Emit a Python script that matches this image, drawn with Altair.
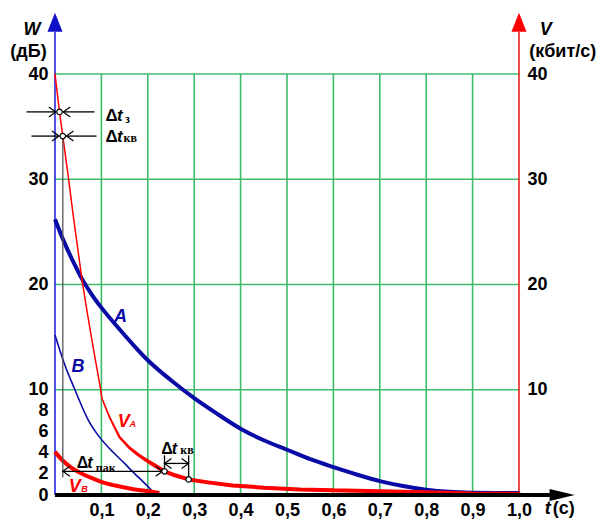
import altair as alt
import numpy as np
import pandas as pd

# ---------------- data -------------------------------------------------
# curve A: W (dB) vs t (s)
t_A = [0, 0.02, 0.04, 0.056, 0.08, 0.1, 0.14, 0.17, 0.2, 0.25, 0.3, 0.35, 0.4,
       0.45, 0.5, 0.55, 0.6, 0.65, 0.7, 0.75, 0.8, 0.85, 0.9, 0.95, 1.0]
w_A = [26.2, 24.0, 22.1, 20.7, 19.0, 17.8, 15.7, 14.2, 12.8, 10.9, 9.2, 7.7, 6.3,
       5.2, 4.3, 3.4, 2.65, 1.95, 1.32, 0.85, 0.5, 0.3, 0.22, 0.2, 0.2]

# curve B
t_B = [0, 0.02, 0.042, 0.072, 0.096, 0.12, 0.15, 0.17, 0.189, 0.205, 0.218]
w_B = [15.2, 12.5, 10.1, 7.1, 5.5, 4.3, 3.0, 2.1, 1.3, 0.6, 0.0]

# curve V_A: bit rate (kbit/s) vs t
t_VA = [0, 0.0097, 0.0168, 0.03, 0.038, 0.05, 0.059, 0.07, 0.08, 0.09, 0.098,
        0.101, 0.1175, 0.139, 0.16, 0.18, 0.197, 0.215, 0.236, 0.26, 0.288,
        0.33, 0.383, 0.45, 0.527, 0.6, 0.7, 0.8, 0.9, 1.0]
v_VA = [40, 36.4, 34.1, 29.8, 27.0, 23.1, 20.2, 17.2, 14.6, 12.1, 10.1,
        9.2, 7.4, 5.5, 4.5, 3.8, 3.3, 2.8, 2.25, 1.85, 1.48,
        1.2, 0.91, 0.7, 0.53, 0.45, 0.35, 0.25, 0.15, 0.1]

# curve V_B
t_VB = [0, 0.016, 0.035, 0.059, 0.08, 0.1, 0.13, 0.161, 0.19, 0.215, 0.225]
v_VB = [4.1, 3.3, 2.6, 2.0, 1.6, 1.25, 0.9, 0.62, 0.42, 0.27, 0.2]

# marked instants on V_A: delay, quantisation, packet end, quantisation
t_z, v_z = 0.0097, 36.4
t_kv, v_kv = 0.0168, 34.1
t_pak, v_pak = 0.236, 2.25
t_kv2, v_kv2 = 0.288, 1.48

# axes
x_ticks = [0.1, 0.2, 0.3, 0.4, 0.5, 0.6, 0.7, 0.8, 0.9, 1.0]
y_ticks_left = [0, 2, 4, 6, 8, 10, 20, 30, 40]
y_ticks_right = [10, 20, 30, 40]
grid_t = [0.1, 0.2, 0.3, 0.4, 0.5, 0.6, 0.7, 0.8, 0.9]
grid_w = [10, 20, 30, 40]

# ---------------- styling ----------------------------------------------
FONT = "Liberation Sans"
SERIF = "Liberation Serif"
GREEN = "#3DBB6A"
NAVY = "#0A0AA6"
BLUE = "#1818E0"
RED = "#FF0000"

XS = alt.Scale(domain=[0, 1], nice=False, zero=False)
YS = alt.Scale(domain=[0, 40], nice=False, zero=False)


def X(f, **kw):
    return alt.X(f, type="quantitative", scale=XS, axis=None, **kw)


def Y(f, **kw):
    return alt.Y(f, type="quantitative", scale=YS, axis=None, **kw)


LBL = dict(domain=False, ticks=False, grid=False, title=None, labelFont=FONT,
           labelFontSize=18, labelFontWeight="bold", labelColor="black",
           labelFlush=False, labelOverlap=False)
x_axis = alt.Axis(values=x_ticks, orient="bottom",
                  labelExpr="replace(format(datum.value, '.1f'), '.', ',')",
                  labelPadding=6, **LBL)
y_axis_left = alt.Axis(values=y_ticks_left, orient="left", labelPadding=7, **LBL)
y_axis_right = alt.Axis(values=y_ticks_right, orient="right", labelPadding=8, **LBL)

# ---------------- grid (also carries the x and left y axes) --------------
grid_v = alt.Chart(pd.DataFrame({"t": grid_t, "v0": 0, "v1": 40})).mark_rule(
    color=GREEN, strokeWidth=1.6).encode(
    x=alt.X("t:Q", scale=XS, axis=x_axis),
    y=alt.Y("v0:Q", scale=YS, axis=y_axis_left), y2="v1:Q")
grid_h = alt.Chart(pd.DataFrame({"v": grid_w, "t0": 0, "t1": 1})).mark_rule(
    color=GREEN, strokeWidth=1.6).encode(x=X("t0"), x2="t1", y=Y("v"))

# right-hand V scale labels (same 0..40 range)
right_axis = alt.Chart(pd.DataFrame({"v": y_ticks_right})).mark_rule(opacity=0).encode(
    y=alt.Y("v:Q", scale=YS, axis=y_axis_right))

# ---------------- axis lines and arrow heads ----------------------------
left_line = alt.Chart(pd.DataFrame({"t": [0], "a": [0], "b": [44.0]})).mark_rule(
    color=BLUE, strokeWidth=1.5).encode(x=X("t"), y=Y("a"), y2="b")
right_line = alt.Chart(pd.DataFrame({"t": [1], "a": [0], "b": [44.0]})).mark_rule(
    color="#E01010", strokeWidth=1.5).encode(x=X("t"), y=Y("a"), y2="b")
bottom_line = alt.Chart(pd.DataFrame({"a": [0], "b": [1.07], "v": [0]})).mark_rule(
    color="black", strokeWidth=4).encode(x=X("a"), x2="b", y=Y("v"))

UP = "M0,-1L0.79,1L-0.79,1Z"
RIGHT = "M1,0L-1,-0.48L-1,0.48Z"
arrow_up_l = alt.Chart(pd.DataFrame({"t": [0], "v": [44.92]})).mark_point(
    shape=UP, filled=True, color="#1010C8", size=361, opacity=1, strokeWidth=0).encode(
    x=X("t"), y=Y("v"))
arrow_up_r = alt.Chart(pd.DataFrame({"t": [1], "v": [44.92]})).mark_point(
    shape=UP, filled=True, color=RED, size=361, opacity=1, strokeWidth=0).encode(
    x=X("t"), y=Y("v"))
arrow_x = alt.Chart(pd.DataFrame({"t": [1.093], "v": [0]})).mark_point(
    shape=RIGHT, filled=True, color="black", size=625, opacity=1, strokeWidth=0).encode(
    x=X("t"), y=Y("v"))

# ---------------- curves -------------------------------------------------
dfA = pd.DataFrame({"t": t_A, "v": w_A})
dfB = pd.DataFrame({"t": t_B, "v": w_B})
dfVB = pd.DataFrame({"t": t_VB, "v": v_VB})
dfVA = pd.DataFrame({"t": t_VA, "v": v_VA})
# V_A is drawn thin on its steep start and thickens along the tail
dfVA["w"] = np.interp(dfVA["t"], [0.101, 0.215], [1.5, 4.0])

curve_A = alt.Chart(dfA).mark_line(color=NAVY, strokeWidth=4, interpolate="monotone").encode(
    x=X("t"), y=Y("v"))
curve_B = alt.Chart(dfB).mark_line(color=NAVY, strokeWidth=1.6, interpolate="monotone").encode(
    x=X("t"), y=Y("v"))
curve_VB = alt.Chart(dfVB).mark_line(color=RED, strokeWidth=4, interpolate="monotone").encode(
    x=X("t"), y=Y("v"))
curve_VA = alt.Chart(dfVA).mark_trail(color=RED).encode(
    x=X("t"), y=Y("v"), size=alt.Size("w:Q", scale=None, legend=None), order="t:Q")

# ---------------- interval markings -------------------------------------
gap = 0.008  # half-gap between arrow tips and marked point
segs = pd.DataFrame({
    "a": [-0.0615, t_z + gap, -0.0507, t_kv + gap, t_kv, t_pak, t_kv, t_pak, t_kv2],
    "b": [t_z - gap, 0.0852, t_kv - gap, 0.0895, t_kv, t_kv2, t_pak, t_pak, t_kv2],
    "va": [v_z, v_z, v_kv, v_kv, 1.67, 3.0, v_pak, v_pak, v_kv2],
    "vb": [v_z, v_z, v_kv, v_kv, v_kv, 3.0, v_pak, 3.77, 3.77],
    "c": ["black", "black", "black", "black", "#555555", "black", "black", "black", "black"],
})
seg_rules = alt.Chart(segs).mark_rule(strokeWidth=1.3).encode(
    x=X("a"), x2="b", y=Y("va"), y2="vb", color=alt.Color("c:N", scale=None))

CHEV = "M-1.4,-1L0,0L-1.4,1"
chev = pd.DataFrame({
    "t": [t_z - gap, t_z + gap, t_kv - gap, t_kv + gap, t_kv, t_pak - 0.004, t_pak, t_kv2],
    "v": [v_z, v_z, v_kv, v_kv, v_pak, v_pak, 3.0, 3.0],
    "ang": [0, 180, 0, 180, 180, 0, 180, 0],
})
chevrons = alt.Chart(chev).mark_point(
    shape=CHEV, filled=False, color="black", strokeWidth=1.2, size=100, opacity=1).encode(
    x=X("t"), y=Y("v"), angle=alt.Angle("ang:Q", scale=None))

dots = alt.Chart(pd.DataFrame({"t": [t_z, t_kv, t_pak, t_kv2],
                               "v": [v_z, v_kv, v_pak, v_kv2]})).mark_point(
    shape="circle", filled=True, fill="white", stroke="black", strokeWidth=1.2,
    size=30, opacity=1).encode(x=X("t"), y=Y("v"))


# ---------------- text ---------------------------------------------------
def texts(t, v, labels, **style):
    df = pd.DataFrame({"t": t, "v": v, "s": labels})
    base = dict(font=FONT, baseline="alphabetic", align="left", color="black")
    base.update(style)
    return alt.Chart(df).mark_text(**base).encode(x=X("t"), y=Y("v"), text="s:N")


delta_big = texts([0.1089, 0.1089], [35.58, 33.58], ["Δ", "Δ"], fontSize=17, fontWeight="bold")
t_big = texts([0.1338, 0.1338], [35.58, 33.58], ["t", "t"], fontSize=17, fontWeight="bold",
              fontStyle="italic")
sub_big = texts([0.1510, 0.1477], [35.35, 33.58], ["з", "кв"], font=SERIF, fontSize=12,
                fontWeight="bold")
delta_low = texts([0.047, 0.229], [2.60, 3.86], ["Δ", "Δ"], fontSize=16, fontWeight="bold")
t_low = texts([0.0695, 0.2515], [2.60, 3.86], ["t", "t"], fontSize=16, fontWeight="bold",
              fontStyle="italic")
sub_low = texts([0.0880, 0.2700], [2.18, 3.86], ["пак", "кв"], font=SERIF, fontSize=12,
                fontWeight="bold")

curve_names = texts([0.1412, 0.0496], [16.42, 11.66], ["A", "B"], fontSize=18,
                    fontWeight="bold", fontStyle="italic", color=NAVY, align="center")
v_names = texts([0.1354, 0.0298], [6.46, 0.276], ["V", "V"], fontSize=18,
                fontWeight="bold", fontStyle="italic", color=RED)
v_subs = texts([0.1606, 0.0565], [6.5, 0.276], ["A", "B"], fontSize=9,
               fontWeight="bold", fontStyle="italic", color=RED)

axis_syms = texts([-0.0496, 1.0576], [43.73, 43.73], ["W", "V"], fontSize=18,
                  fontWeight="bold", fontStyle="italic", align="center")
axis_units = texts([-0.0571, 1.0942], [41.64, 41.64], ["(дБ)", "(кбит/с)"], fontSize=18,
                   fontWeight="bold", align="center")
t_name = texts([1.0554], [-1.8], ["t"], fontSize=18, fontWeight="bold", fontStyle="italic")
t_unit = texts([1.0727], [-1.8], ["(с)"], fontSize=18, fontWeight="bold")

chart = alt.layer(
    grid_v, right_axis, grid_h, left_line, right_line,
    curve_A, curve_B, curve_VA, curve_VB,
    seg_rules, chevrons, dots,
    bottom_line, arrow_up_l, arrow_up_r, arrow_x,
    delta_big, t_big, sub_big, delta_low, t_low, sub_low,
    curve_names, v_names, v_subs, axis_syms, axis_units, t_name, t_unit,
).resolve_axis(x="independent", y="independent").properties(
    width=464, height=421,
    autosize=alt.AutoSizeParams(type="none"),
    padding={"left": 55, "top": 74, "right": 81, "bottom": 24},
    background="white",
).configure_view(stroke=None)

chart.save("out.html", embed_options={"renderer": "svg", "actions": False})
